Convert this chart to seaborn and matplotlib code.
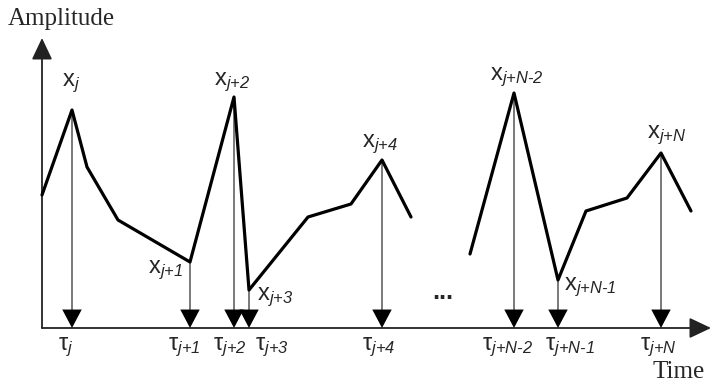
import numpy as np
import pandas as pd
import seaborn as sns
import matplotlib.pyplot as plt

# Signal samples (time, amplitude) for the two visible stretches of the waveform
seg1_t = [0, 30, 45, 76, 148, 192, 207, 266, 309, 340, 369]
seg1_a = [133, 218, 161, 108, 66, 231, 38, 111, 124, 168, 111]
seg2_t = [428, 472, 516, 544, 585, 619, 649]
seg2_a = [74, 235, 48, 117, 130, 175, 117]

# Event times (tau) and the sample values they point from
event_t = [30, 148, 192, 207, 340, 472, 516, 619]
event_a = [218, 66, 231, 38, 168, 235, 48, 175]
subs = ["j", "j+1", "j+2", "j+3", "j+4", "j+N-2", "j+N-1", "j+N"]


def sub_text(s):
    # keep + and - tight like ordinary characters in the subscript
    s = s.replace("+", "{+}").replace("-", r"{\text{-}}")
    return "$_{" + s + "}$"


x_labels = ["x" + sub_text(s) for s in subs]
tau_labels = ["τ" + sub_text(s) for s in subs]

# label placement (offsets from each event point)
x_dx = [-10, -42, -20, 8, -20, -24, 6, -14]
x_dy = [24, -11, 12, -10, 13, 13, -10, 15]
tau_dx = [-14, -22, -21, 6, -20, -32, -13, -21]

sns.set_style("white")
plt.rcParams["font.family"] = ["Liberation Sans", "DejaVu Sans"]
plt.rcParams["mathtext.fontset"] = "custom"
plt.rcParams["mathtext.rm"] = "Liberation Sans:italic"
plt.rcParams["mathtext.it"] = "Liberation Sans:italic"
plt.rcParams["mathtext.default"] = "it"

fig = plt.figure(figsize=(7.16, 3.89), dpi=100)
ax = fig.add_axes([0, 0, 1, 1])
ax.set_xlim(-42, 674)
ax.set_ylim(-61, 328)
ax.axis("off")

# coordinate axes with arrow heads
ax.annotate("", xy=(0, 290), xytext=(0, 0),
            arrowprops=dict(arrowstyle="-|>,head_length=0.95,head_width=0.45",
                            mutation_scale=14, color="#222", lw=1.3,
                            shrinkA=0, shrinkB=0))
ax.annotate("", xy=(669, 0), xytext=(0, 0),
            arrowprops=dict(arrowstyle="-|>,head_length=0.95,head_width=0.45",
                            mutation_scale=14, color="#222", lw=1.3,
                            shrinkA=0, shrinkB=0))

# event arrows: grey stem, black head
for t, a in zip(event_t, event_a):
    ax.plot([t, t], [a, 10], color="#555", lw=1.1, zorder=2)
    ax.annotate("", xy=(t, 0), xytext=(t, 18),
                arrowprops=dict(arrowstyle="-|>,head_length=0.95,head_width=0.5",
                                mutation_scale=14, color="black", lw=0,
                                shrinkA=0, shrinkB=0))

# waveform
sns.lineplot(x=seg1_t, y=seg1_a, sort=False, estimator=None, color="black",
             lw=2.3, ax=ax, zorder=3)
sns.lineplot(x=seg2_t, y=seg2_a, sort=False, estimator=None, color="black",
             lw=2.3, ax=ax, zorder=3)

for t, a, lab, dx, dy in zip(event_t, event_a, x_labels, x_dx, x_dy):
    ax.text(t + dx, a + dy, lab, fontsize=17, ha="left", va="baseline")

for t, lab, dx in zip(event_t, tau_labels, tau_dx):
    ax.text(t + dx, -22, lab, fontsize=17, ha="left", va="baseline")

ax.text(401, 29, "...", fontsize=18, fontweight="bold", ha="center", va="baseline")

ax.text(-34, 309, "Amplitude", family="Liberation Serif", fontsize=18,
        ha="left", va="center")
ax.text(663, -44, "Time", family="Liberation Serif", fontsize=18,
        ha="right", va="center")

fig.savefig("out.png", dpi=100)
